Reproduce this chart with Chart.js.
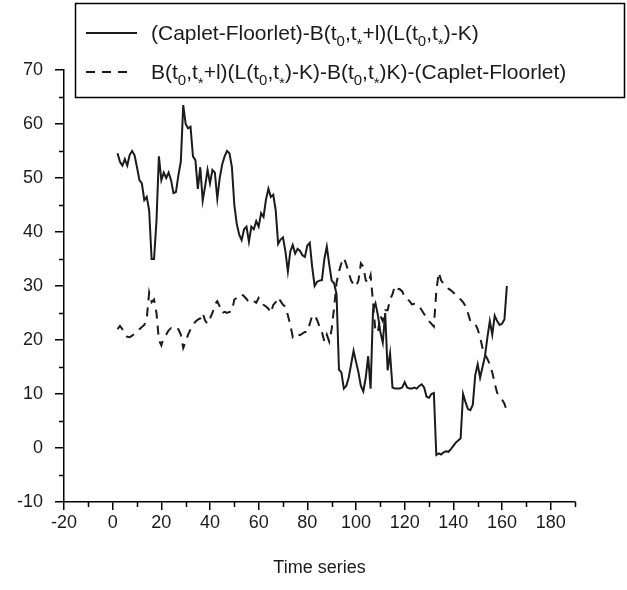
<!DOCTYPE html>
<html>
<head>
<meta charset="utf-8">
<script src="https://cdn.jsdelivr.net/npm/chart.js@4.4.1/dist/chart.umd.min.js"></script>
<style>
  html, body { margin: 0; padding: 0; background: #fff; }
  #wrap { width: 627px; height: 590px; }
</style>
</head>
<body>
<div id="wrap"><canvas id="chart" width="627" height="590"></canvas></div>
<script>
// Solid series: (Caplet-Floorlet) minus the discounted forward payoff, one value per step
const capletFloorletSpread = [
  54.6, 53, 52.3, 53.5, 52.3, 54.3, 55, 54.2, 52, 49.6,
  49, 45.9, 46.5, 44, 35, 35, 42, 54, 49.6, 51,
  50, 51, 49.6, 47.2, 47.4, 50.5, 53, 63.5, 60, 59.2,
  59.5, 54, 53.3, 48, 52, 45.8, 48.5, 51.5, 49, 51.5,
  51, 46.2, 50, 52.5, 54, 55, 54.6, 52, 45, 41.5,
  39.5, 38.5, 40.5, 41, 38.2, 41, 40.5, 42, 41, 43.5,
  42.8, 46, 48, 46.5, 46.9, 44, 37.8, 38.6, 39, 36.4,
  32.7, 36.4, 37.6, 36, 36.9, 36.5, 35.7, 35.4, 37.5, 38,
  33.5, 30, 30.8, 31, 31.1, 35, 37.3, 34, 31, 30.5,
  28.5, 14.5, 14, 11, 11.5, 13, 15.5, 18, 16, 14,
  11.5, 10.5, 13, 17, 11, 25.6, 26.8, 24.6, 21.5, 19.5,
  25, 14.4, 17.5, 11.2, 11, 11, 11, 11.2, 12.2, 11.2,
  11, 11, 11.2, 11, 11.5, 11.8, 11.2, 9.5, 9.3, 10,
  10.2, -1.3, -1.0, -1.2, -0.8, -0.6, -0.7, -0.2, 0.4, 1.0,
  1.4, 1.8, 10, 8.5, 7.2, 7, 8, 13.5, 15.5, 13,
  15, 17, 20.5, 23.5, 21, 24.5, 23.5, 22.8, 23, 23.8,
  30
];

// Dashed series: forward payoff minus strike leg minus (Caplet-Floorlet)
const forwardParitySpread = [
  22, 22.6, 22, 21, 20.6, 20.5, 20.8, 21.2, 21.5, 22,
  22.4, 22.8, 24, 28.8, 27, 27.5, 25, 20, 19, 20.5,
  21, 21.8, 22.2, 22, 22.3, 22, 21, 18.5, 19.7, 21,
  22, 22.8, 23.4, 23.8, 24, 25, 23.6, 23, 24, 25,
  26.6, 27.2, 26.2, 25, 25.2, 25, 25.2, 25.3, 27.5, 27.8,
  28, 28.5, 28.1, 27.6, 27, 27.3, 27.2, 26.9, 27.8, 27.2,
  26.5, 26.2, 25.8, 25, 26.5, 27, 27.9, 27.2, 26.5, 26.2,
  24.6, 22.8, 20.6, 21.2, 21, 20.9, 21.2, 21.5, 21.5, 23,
  24.5, 24.6, 23.7, 22.5, 21.5, 19.7, 21, 19.7, 22, 26,
  30.6, 32.7, 34.2, 35.2, 34, 32.5, 31, 30.3, 29.9, 31,
  34.2, 33.6, 31.1, 30.5, 32, 27, 21.5, 21.5, 24.5, 23.5,
  25.5, 25.5, 27.5, 28.5, 30, 29.5, 29.4, 29, 28, 27.6,
  27.2, 26.6, 26.7, 26.6, 26.3, 25.5, 24.8, 24.3, 23.5, 23,
  22.5, 29, 32.5, 31, 30.5, 30, 29.5, 29.2, 28.8, 28.3,
  27.8, 27.5, 27, 26.3, 25, 23.5, 23.3, 23, 22, 20.5,
  18.5, 17.3, 16.5, 15.5, 14, 12, 10.2, 9.6, 9, 8.2,
  6.8
];

// Time index of each observation (steps 2, 3, 4, ...)
const firstStep = 2;
const timeSteps = capletFloorletSpread.map((_, i) => firstStep + i);

// Legend texts; "_c" marks a subscript character
const seriesLabels = [
  '(Caplet-Floorlet)-B(t_0,t_*+l)(L(t_0,t_*)-K)',
  'B(t_0,t_*+l)(L(t_0,t_*)-K)-B(t_0,t_*)K)-(Caplet-Floorlet)'
];

// Axis ranges and labelled ticks
const xTickLabels = [-20, 0, 20, 40, 60, 80, 100, 120, 140, 160, 180];
const yTickLabels = [-10, 0, 10, 20, 30, 40, 50, 60, 70];
const xAxisTitle = 'Time series';

const FONT = '"Liberation Sans", Arial, Helvetica, sans-serif';
const INK = '#1b1b1b';

function toPoints(values) {
  return values.map((v, i) => ({ x: timeSteps[i], y: v }));
}

// Short unlabelled ticks between the labelled ones
const minorTicks = {
  id: 'minorTicks',
  afterDraw(chart) {
    const { ctx, scales: { x, y } } = chart;
    ctx.save();
    ctx.strokeStyle = '#000';
    ctx.lineWidth = 1.5;
    ctx.beginPath();
    x.ticks.forEach(t => {
      if (!xTickLabels.includes(t.value)) {
        const px = Math.round(x.getPixelForValue(t.value)) + 0.5;
        ctx.moveTo(px, x.top);
        ctx.lineTo(px, x.top + 5);
      }
    });
    y.ticks.forEach(t => {
      if (!yTickLabels.includes(t.value)) {
        const py = Math.round(y.getPixelForValue(t.value)) + 0.5;
        ctx.moveTo(y.right - 5, py);
        ctx.lineTo(y.right, py);
      }
    });
    ctx.stroke();
    ctx.restore();
  }
};

// Writes a label with subscripts, returns its end x
function drawRichText(ctx, text, x, y, size) {
  let cx = x;
  for (let i = 0; i < text.length; i++) {
    let ch = text[i];
    let sub = false;
    if (ch === '_' && i + 1 < text.length) { ch = text[++i]; sub = true; }
    const fs = sub ? Math.round(size * 0.72) : size;
    ctx.font = fs + 'px ' + FONT;
    const dy = sub ? (ch === '*' ? size * 0.42 : size * 0.28) : 0;
    ctx.fillText(ch, cx, y + dy);
    cx += ctx.measureText(ch).width;
  }
  return cx;
}

// Boxed legend with line samples
const boxedLegend = {
  id: 'boxedLegend',
  afterDraw(chart) {
    const { ctx } = chart;
    const box = { left: 75, top: 3, right: 624, bottom: 97 };
    ctx.save();
    ctx.fillStyle = '#fff';
    ctx.fillRect(box.left, box.top, box.right - box.left, box.bottom - box.top);
    ctx.strokeStyle = '#000';
    ctx.lineWidth = 1.5;
    ctx.strokeRect(box.left + 0.5, box.top + 0.5, box.right - box.left, box.bottom - box.top);

    const rows = [33, 72];
    chart.data.datasets.forEach((ds, i) => {
      const yRow = rows[i];
      ctx.strokeStyle = ds.borderColor;
      ctx.lineWidth = ds.borderWidth;
      ctx.setLineDash(ds.borderDash || []);
      ctx.beginPath();
      ctx.moveTo(86, yRow);
      ctx.lineTo(i === 0 ? 137 : 130, yRow);
      ctx.stroke();
      ctx.setLineDash([]);
      ctx.fillStyle = INK;
      ctx.textBaseline = 'alphabetic';
      ctx.textAlign = 'left';
      drawRichText(ctx, seriesLabels[i], 151, yRow + 7, 21);
    });
    ctx.restore();
  }
};

new Chart(document.getElementById('chart'), {
  type: 'line',
  data: {
    datasets: [
      {
        label: seriesLabels[0],
        data: toPoints(capletFloorletSpread),
        borderColor: INK,
        borderWidth: 2,
        pointRadius: 0,
        tension: 0,
        fill: false
      },
      {
        label: seriesLabels[1],
        data: toPoints(forwardParitySpread),
        borderColor: INK,
        borderWidth: 2,
        borderDash: [9, 7],
        pointRadius: 0,
        tension: 0,
        fill: false
      }
    ]
  },
  options: {
    responsive: false,
    animation: false,
    events: [],
    layout: { padding: { left: 0, right: 52, top: 70, bottom: 11 } },
    plugins: {
      legend: { display: false },
      tooltip: { enabled: false }
    },
    scales: {
      x: {
        type: 'linear',
        min: -20,
        max: 190,
        afterFit: s => { s.height = 77; },
        ticks: {
          stepSize: 10,
          autoSkip: false,
          maxRotation: 0,
          padding: 2,
          color: INK,
          font: { family: FONT, size: 18 },
          callback: v => xTickLabels.includes(v) ? String(v) : ''
        },
        grid: {
          drawOnChartArea: false,
          drawTicks: true,
          tickLength: 8,
          lineWidth: 1.5,
          color: ctx => (ctx.tick && xTickLabels.includes(ctx.tick.value)) ? '#000' : 'rgba(0,0,0,0)'
        },
        border: { display: true, color: '#000', width: 1.5 },
        title: {
          display: true,
          text: xAxisTitle,
          color: INK,
          font: { family: FONT, size: 18 },
          padding: { top: 0, bottom: 0 }
        }
      },
      y: {
        type: 'linear',
        min: -10,
        max: 70,
        afterFit: s => { s.width = 64; },
        ticks: {
          stepSize: 5,
          autoSkip: false,
          padding: 12,
          color: INK,
          font: { family: FONT, size: 18 },
          callback: v => yTickLabels.includes(v) ? String(v) : ''
        },
        grid: {
          drawOnChartArea: false,
          drawTicks: true,
          tickLength: 9,
          lineWidth: 1.5,
          color: ctx => (ctx.tick && yTickLabels.includes(ctx.tick.value)) ? '#000' : 'rgba(0,0,0,0)'
        },
        border: { display: true, color: '#000', width: 1.5 }
      }
    }
  },
  plugins: [minorTicks, boxedLegend]
});
</script>
</body>
</html>
